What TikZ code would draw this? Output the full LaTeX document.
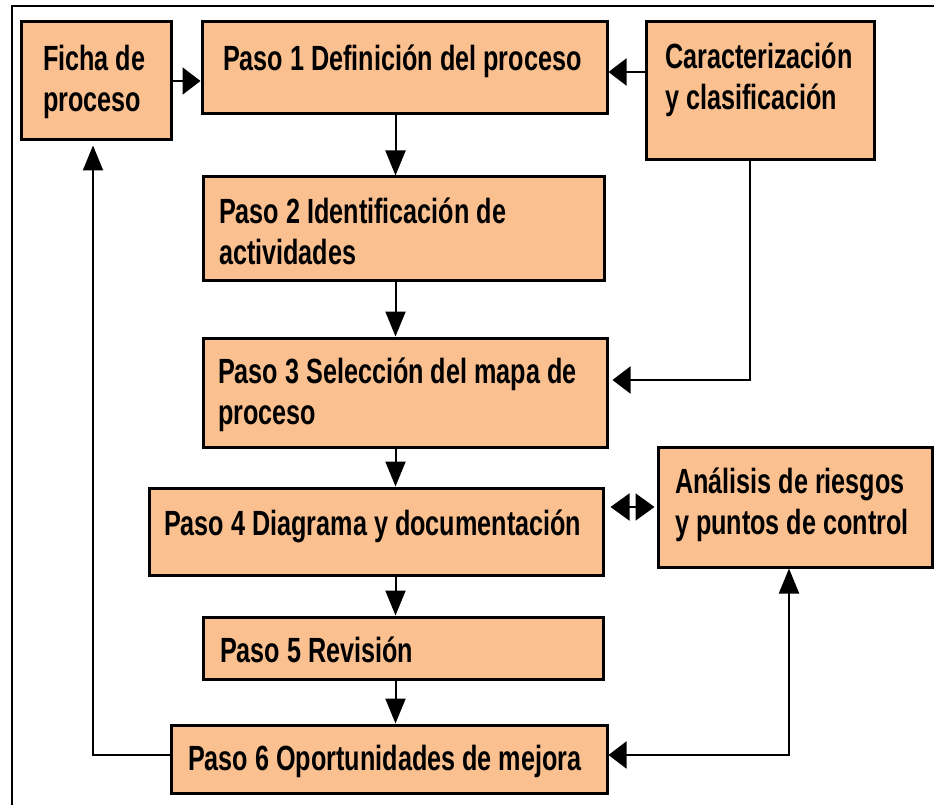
\documentclass[tikz,border=0pt]{standalone}
\usepackage{fontspec}
\newfontfamily\boxfont[FakeStretch=0.72]{Liberation Sans}
\usetikzlibrary{arrows.meta}
\definecolor{boxfill}{RGB}{250,192,143}
\begin{document}
\begin{tikzpicture}[x=1pt,y=-1pt,
  box/.style={draw=black, line width=3pt, fill=boxfill, inner ysep=0pt, align=flush left,
    font=\boxfont\bfseries\fontsize{35}{41}\selectfont, text height=25pt},
  conn/.style={line width=2pt, draw=black},
  harr/.style={conn, -{Triangle[length=18pt,width=27pt]}},
  varr/.style={conn, -{Triangle[length=25pt,width=20pt]}},
  dbl/.style={conn, {Triangle[length=19pt,width=27pt]}-{Triangle[length=19pt,width=27pt]}},
]
\useasboundingbox (0,0) rectangle (934,805);
\draw[line width=2pt] (12,810) -- (12,6) -- (940,6);

\node[box, minimum width=150pt, minimum height=118pt, inner xsep=22pt, text width=106pt, text depth=45pt] (ficha) at (96,81) {\mbox{Ficha de}\\\mbox{proceso}};
\node[box, minimum width=405pt, minimum height=92pt, inner xsep=21pt, text width=363pt, text depth=19pt] (p1) at (404.5,68) {\mbox{Paso 1 Definición del proceso}};
\node[box, minimum width=228pt, minimum height=138pt, inner xsep=19pt, text width=190pt, text depth=70pt] (car) at (760,91) {\mbox{Caracterización}\\\mbox{y clasificación}};
\node[box, minimum width=401pt, minimum height=103pt, inner xsep=16pt, text width=369pt, text depth=35pt] (p2) at (403.5,228.5) {\mbox{Paso 2 Identificación de}\\\mbox{actividades}};
\node[box, minimum width=404pt, minimum height=109pt, inner xsep=15pt, text width=374pt, text depth=44pt] (p3) at (405,392.5) {\mbox{Paso 3 Selección del mapa de}\\\mbox{proceso}};
\node[box, minimum width=454pt, minimum height=87pt, inner xsep=15pt, text width=424pt, text depth=17pt] (p4) at (376,531.5) {\mbox{Paso 4 Diagrama y documentación}};
\node[box, minimum width=274pt, minimum height=120pt, inner xsep=17pt, text width=240pt, text depth=53pt] (anal) at (795,507) {\mbox{Análisis de riesgos}\\\mbox{y puntos de control}};
\node[box, minimum width=400pt, minimum height=62pt, inner xsep=17pt, text width=366pt, text height=28pt, text depth=0pt] (p5) at (403,648) {\mbox{Paso 5 Revisión}};
\node[box, minimum width=436pt, minimum height=68pt, inner xsep=17pt, text width=402pt, text depth=3pt] (p6) at (389,759) {\mbox{Paso 6 Oportunidades de mejora}};

\coordinate (cx) at (395.5,0);
\coordinate (lx) at (93,0);
\coordinate (rx) at (789,0);
\coordinate (kx) at (750,0);
\coordinate (y1) at (0,72);
\coordinate (y3) at (0,380);
\coordinate (y6) at (0,755);

\draw[harr] (ficha.east) -- (ficha.east -| p1.west);
\draw[harr] (car.west |- y1) -- (p1.east |- y1);
\draw[varr] (p1.south -| cx) -- (p2.north -| cx);
\draw[varr] (p2.south -| cx) -- (p3.north -| cx);
\draw[harr, shorten >=4pt] (car.south -| kx) |- (p3.east |- y3);
\draw[varr] (p3.south -| cx) -- (p4.north -| cx);
\draw[dbl, shorten <=6pt, shorten >=2pt] (anal.west -| p4.east) -- (anal.west);
\draw[varr] (p4.south -| cx) -- (p5.north -| cx);
\draw[varr] (p5.south -| cx) -- (p6.north -| cx);
\draw[varr, shorten >=4pt] (p6.west |- y6) -| (ficha.south -| lx);
\draw[conn, {Triangle[length=25pt,width=20pt]}-{Triangle[length=18pt,width=27pt]}] (anal.south -| rx) |- (p6.east |- y6);
\end{tikzpicture}
\end{document}
